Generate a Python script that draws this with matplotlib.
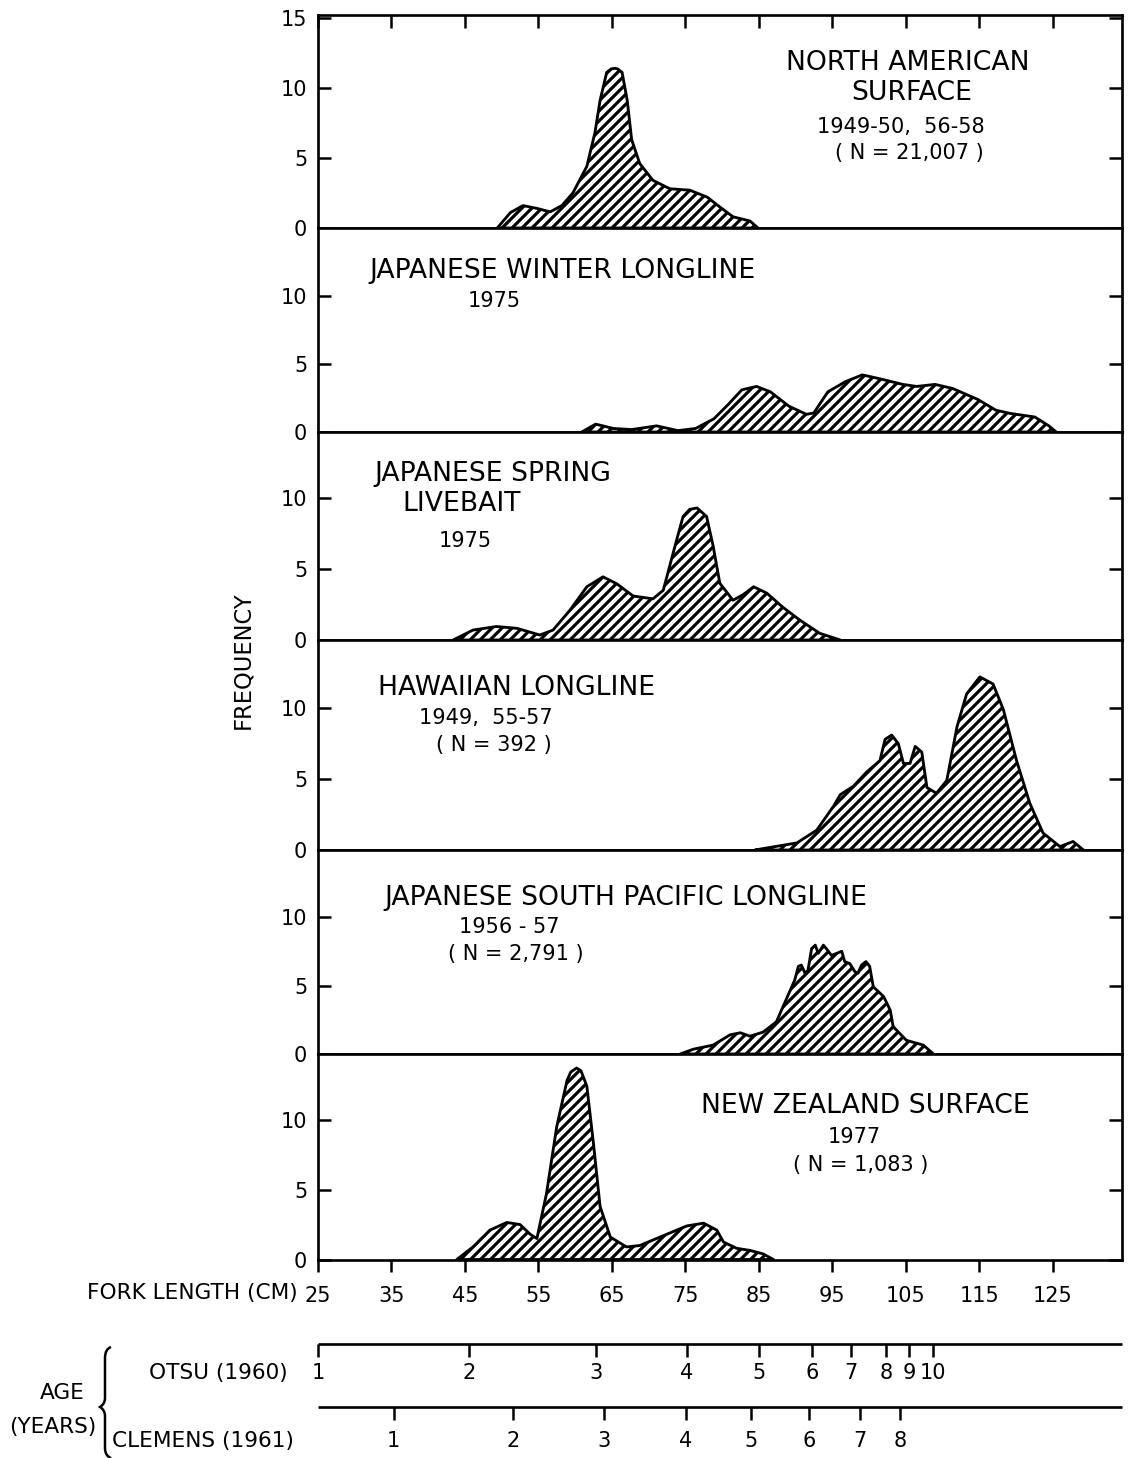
import matplotlib.pyplot as plt
from matplotlib.path import Path
from matplotlib.patches import PathPatch

plt.rcParams['font.family'] = ['DejaVu Sans']
plt.rcParams['hatch.linewidth'] = 1.9

# 各區漁獲叉長分布 (cm, frequency)
na_x = [49.4, 51.2, 52.9, 54.8, 56.6, 58.2, 59.7, 61.6, 62.7, 63.4, 64.3, 64.9, 65.4, 65.8,
        66.4, 67.1, 67.7, 68.8, 70.6, 72.9, 75.6, 78.0, 79.7, 81.5, 83.8, 84.9]
na_y = [0, 1.1, 1.6, 1.4, 1.15, 1.6, 2.5, 4.4, 6.8, 9.1, 11.1, 11.35, 11.4, 11.35,
        11.1, 9.1, 6.3, 4.6, 3.4, 2.8, 2.7, 2.2, 1.5, 0.8, 0.5, 0]

jw_x = [60.9, 62.8, 65.2, 67.7, 71.1, 74.0, 76.4, 78.9, 80.8, 82.7, 84.7, 86.6, 89.1, 91.5,
        92.5, 94.4, 96.8, 99.1, 101.6, 104.6, 106.5, 109.0, 111.4, 114.8, 117.3, 119.2,
        122.6, 124.5, 125.5]
jw_y = [0, 0.58, 0.26, 0.18, 0.45, 0.1, 0.26, 0.97, 2.0, 3.1, 3.35, 2.95, 1.9, 1.3,
        1.4, 2.95, 3.7, 4.2, 3.9, 3.5, 3.35, 3.5, 3.2, 2.4, 1.6, 1.37,
        1.1, 0.45, 0]

js_x = [43.4, 46.1, 49.3, 52.1, 55.2, 57.0, 59.3, 61.6, 63.8, 65.7, 67.9, 70.6, 72.0,
        73.8, 74.7, 75.6, 76.6, 77.9, 78.8, 79.7, 81.5, 82.9, 84.3, 86.1, 88.3, 90.6,
        93.3, 96.1]
js_y = [0, 0.7, 0.95, 0.82, 0.35, 0.7, 2.1, 3.75, 4.45, 3.95, 3.1, 2.9, 3.5,
        7.0, 8.7, 9.2, 9.3, 8.7, 6.6, 4.0, 2.8, 3.2, 3.75, 3.3, 2.3, 1.4,
        0.47, 0]

hw_x = [84.5, 85.6, 90.2, 92.9, 95.2, 96.1, 97.9, 99.7, 101.5, 102.2, 103.1, 104.0, 104.7,
        105.6, 106.3, 107.2, 107.9, 109.2, 110.6, 112.0, 113.3, 115.1, 116.9, 118.3,
        120.1, 121.9, 123.7, 126.0, 127.8, 129.2]
hw_y = [0, 0.1, 0.5, 1.4, 3.1, 3.9, 4.5, 5.5, 6.3, 7.8, 8.1, 7.5, 6.1,
        6.1, 7.3, 6.9, 4.4, 4.0, 4.9, 8.7, 11.0, 12.2, 11.7, 9.9,
        6.3, 3.3, 1.2, 0.24, 0.6, 0]

sp_x = [74.3, 76.1, 78.8, 81.1, 82.5, 83.8, 85.6, 87.4, 88.3, 89.9, 90.4, 90.8, 91.3, 91.7,
        92.2, 92.7, 93.1, 93.8, 94.2, 94.9, 95.6, 96.3, 96.7, 97.4, 98.1, 98.5, 99.0,
        99.6, 100.1, 100.6, 102.0, 102.9, 103.3, 105.1, 107.4, 108.8]
sp_y = [0, 0.35, 0.65, 1.4, 1.55, 1.3, 1.6, 2.35, 3.45, 5.4, 6.4, 6.5, 5.9, 6.1,
        7.7, 7.95, 7.35, 7.95, 7.7, 7.2, 7.35, 7.5, 6.75, 6.6, 6.0, 5.9, 6.5,
        6.75, 6.4, 4.9, 4.2, 3.2, 2.0, 1.0, 0.65, 0]

nz_x = [43.9, 46.1, 48.4, 50.7, 52.5, 53.9, 54.8, 56.1, 57.5, 58.9, 59.4, 60.2, 60.8, 61.6,
        62.5, 63.4, 64.8, 67.0, 68.8, 72.0, 75.2, 77.5, 79.3, 80.2, 82.0, 83.8, 85.6, 87.0]
nz_y = [0, 0.9, 2.1, 2.65, 2.5, 1.8, 1.5, 4.7, 9.5, 12.8, 13.4, 13.7, 13.5, 12.4,
        8.3, 3.8, 1.6, 0.9, 1.0, 1.7, 2.4, 2.6, 2.1, 1.25, 0.8, 0.65, 0.4, 0]

series = [(na_x, na_y), (jw_x, jw_y), (js_x, js_y), (hw_x, hw_y), (sp_x, sp_y), (nz_x, nz_y)]

# 年齡對應叉長 (cm)
otsu_age = ['1', '2', '3', '4', '5', '6', '7', '8', '9', '10']
otsu_len = [25.0, 45.6, 62.8, 75.2, 85.1, 92.3, 97.6, 102.3, 105.5, 108.7]
clemens_age = ['1', '2', '3', '4', '5', '6', '7', '8']
clemens_len = [35.3, 51.5, 64.0, 75.1, 83.9, 91.9, 98.8, 104.2]

x_ticks = [25, 35, 45, 55, 65, 75, 85, 95, 105, 115, 125]

W, H = 1128, 1458
DPI = 120
left_px, right_px = 318, 1121.6
edges = [15, 228, 432, 640, 850, 1054, 1259.5]
ymax = [15.2, 15.0, 14.65, 14.8, 14.9, 14.7]
xlim = (25, 134.4)

fig = plt.figure(figsize=(W / DPI, H / DPI), dpi=DPI)

axes = []
for i in range(6):
    top, bot = edges[i], edges[i + 1]
    ax = fig.add_axes([left_px / W, 1 - bot / H, (right_px - left_px) / W, (bot - top) / H])
    x, y = series[i]
    ax.fill_between(x, y, 0, facecolor='white', edgecolor='black', hatch='////',
                    linewidth=1.7, zorder=2)
    ax.set_xlim(*xlim)
    ax.set_ylim(0, ymax[i])
    yt = [0, 5, 10, 15] if i == 0 else [0, 5, 10]
    ax.set_yticks(yt)
    ax.set_yticklabels([str(v) for v in yt])
    ax.tick_params(axis='y', direction='in', length=8, width=1.5, labelsize=12.5,
                   pad=6.5, right=True)
    if i == 0:
        ax.set_xticks(x_ticks)
        ax.tick_params(axis='x', direction='in', length=8, width=1.5, top=True,
                       bottom=False, labelbottom=False)
    elif i == 5:
        ax.set_xticks(x_ticks)
        ax.set_xticklabels([str(v) for v in x_ticks])
        ax.tick_params(axis='x', direction='out', length=7, width=1.5, labelsize=12.5,
                       pad=9)
    else:
        ax.set_xticks([])
    for s in ax.spines.values():
        s.set_linewidth(1.6)
    axes.append(ax)

# 年齡尺
ax_age = fig.add_axes([left_px / W, 0, (right_px - left_px) / W, 130 / H])
ax_age.set_xlim(*xlim)
ax_age.set_ylim(1458, 1328)
ax_age.axis('off')
ax_age.hlines([1343.6, 1407], xlim[0], xlim[1], colors='black', linewidth=1.6, clip_on=False)
ax_age.vlines(otsu_len, 1343.6, 1357, colors='black', linewidth=1.5, clip_on=False)
ax_age.vlines(clemens_len, 1407, 1420, colors='black', linewidth=1.5, clip_on=False)
for a, v in zip(otsu_age, otsu_len):
    ax_age.text(v, 1373, a, ha='center', va='center', fontsize=12.5)
for a, v in zip(clemens_age, clemens_len):
    ax_age.text(v, 1441, a, ha='center', va='center', fontsize=12.5)

# 文字 (像素座標)
ov = fig.add_axes([0, 0, 1, 1], facecolor='none')
ov.set_xlim(0, W)
ov.set_ylim(H, 0)
ov.axis('off')

labels = [
    ('NORTH AMERICAN', 908, 63, 16, 'center'),
    ('SURFACE', 912, 93, 16, 'center'),
    ('1949-50,  56-58', 901, 127, 12.5, 'center'),
    ('( N = 21,007 )', 909, 153, 12.5, 'center'),
    ('JAPANESE WINTER LONGLINE', 562, 271, 16, 'center'),
    ('1975', 494, 301, 12.5, 'center'),
    ('JAPANESE SPRING', 493, 474, 16, 'center'),
    ('LIVEBAIT', 462, 504, 16, 'center'),
    ('1975', 465, 541, 12.5, 'center'),
    ('HAWAIIAN LONGLINE', 517, 688, 16, 'center'),
    ('1949,  55-57', 486, 718, 12.5, 'center'),
    ('( N = 392 )', 494, 745, 12.5, 'center'),
    ('JAPANESE SOUTH PACIFIC LONGLINE', 626, 898, 16, 'center'),
    ('1956 - 57', 509, 927, 12.5, 'center'),
    ('( N = 2,791 )', 516, 954, 12.5, 'center'),
    ('NEW ZEALAND SURFACE', 865, 1106, 16, 'center'),
    ('1977', 854, 1137, 12.5, 'center'),
    ('( N = 1,083 )', 861, 1165, 12.5, 'center'),
]
for t, px, py, fs, ha in labels:
    ov.text(px, py, t, ha=ha, va='center', fontsize=fs)

ov.text(243, 660, 'FREQUENCY', rotation=90, ha='center', va='center', fontsize=13.5)
ov.text(298, 1293, 'FORK LENGTH (CM)', ha='right', va='center', fontsize=13)
ov.text(288, 1373, 'OTSU (1960)', ha='right', va='center', fontsize=13)
ov.text(112, 1441, 'CLEMENS (1961)', ha='left', va='center', fontsize=13)
ov.text(62, 1393, 'AGE', ha='center', va='center', fontsize=13)
ov.text(53, 1427, '(YEARS)', ha='center', va='center', fontsize=13)

# 大括號
verts = [(111, 1347), (105, 1349), (105, 1358), (105, 1398), (105, 1404), (100, 1407),
         (105, 1410), (105, 1416), (105, 1448), (105, 1456), (111, 1458)]
codes = [Path.MOVETO, Path.CURVE3, Path.CURVE3, Path.LINETO, Path.CURVE3, Path.CURVE3,
         Path.CURVE3, Path.CURVE3, Path.LINETO, Path.CURVE3, Path.CURVE3]
ov.add_patch(PathPatch(Path(verts, codes), facecolor='none', edgecolor='black', linewidth=1.5))

fig.savefig('out.png', dpi=DPI)
